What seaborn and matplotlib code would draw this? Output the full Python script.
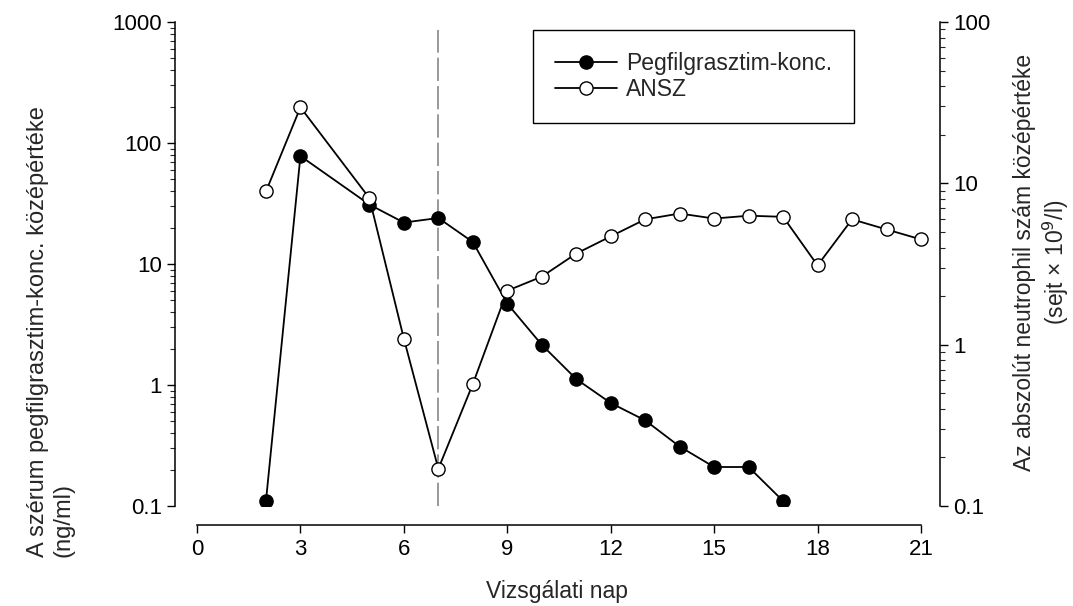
import numpy as np
import pandas as pd
import matplotlib
matplotlib.use("Agg")
import matplotlib.pyplot as plt
import matplotlib.ticker as mticker
import seaborn as sns

# data
days_peg = [2, 3, 5, 6, 7, 8, 9, 10, 11, 12, 13, 14, 15, 16, 17]
peg_conc = [0.11, 78, 31, 22, 24, 15.2, 4.7, 2.15, 1.12, 0.71, 0.51, 0.31, 0.21, 0.21, 0.11]

days_ansz = [2, 3, 5, 6, 7, 8, 9, 10, 11, 12, 13, 14, 15, 16, 17, 18, 19, 20, 21]
ansz = [8.9, 29.6, 8.1, 1.09, 0.17, 0.57, 2.16, 2.64, 3.67, 4.69, 5.98, 6.5,
        6.05, 6.3, 6.2, 3.1, 5.98, 5.18, 4.49]

x_ticks = [0, 3, 6, 9, 12, 15, 18, 21]
left_ticks = [0.1, 1, 10, 100, 1000]
right_ticks = [0.1, 1, 10, 100]
nadir_day = 7

sns.set_style("ticks")
plt.rcParams['font.family'] = ['Liberation Sans', 'DejaVu Sans']
plt.rcParams['font.size'] = 16

W, H = 1073, 606
fig = plt.figure(figsize=(W / 100, H / 100), dpi=100)
ax = fig.add_axes([175 / W, 1 - 506 / H, (940 - 175) / W, (506 - 22) / H])
ax2 = ax.twinx()

df_peg = pd.DataFrame({"nap": days_peg, "konc": peg_conc})
df_ansz = pd.DataFrame({"nap": days_ansz, "ansz": ansz})

sns.lineplot(data=df_peg, x="nap", y="konc", ax=ax, color="black", lw=1.3,
             marker="o", markersize=9.5, markerfacecolor="black",
             markeredgecolor="black", markeredgewidth=1, legend=False)
sns.lineplot(data=df_ansz, x="nap", y="ansz", ax=ax2, color="black", lw=1.3,
             marker="o", markersize=9.5, markerfacecolor="white",
             markeredgecolor="black", markeredgewidth=1, legend=False)

ax.axvline(nadir_day, ymin=0, ymax=0.983, color="#888888", lw=1.2,
           dashes=(14, 3), zorder=0)

px_per_day = (921 - 197) / 21
ax.set_xlim(0 - 22 / px_per_day, 21 + 19 / px_per_day)
ax.set_yscale("log")
ax.set_ylim(0.1, 1000)
ax2.set_yscale("log")
ax2.set_ylim(0.1, 100)

ax.set_xticks(x_ticks)
ax.set_yticks(left_ticks)
ax.yaxis.set_major_formatter(mticker.FuncFormatter(lambda v, p: f"{v:g}"))
ax.yaxis.set_minor_locator(mticker.LogLocator(base=10, subs=np.arange(2, 10)))
ax.yaxis.set_minor_formatter(mticker.NullFormatter())
ax2.set_yticks(right_ticks)
ax2.yaxis.set_major_formatter(mticker.FuncFormatter(lambda v, p: f"{v:g}"))
ax2.yaxis.set_minor_locator(mticker.LogLocator(base=10, subs=np.arange(2, 10)))
ax2.yaxis.set_minor_formatter(mticker.NullFormatter())

for a in (ax, ax2):
    a.spines["top"].set_visible(False)
    a.tick_params(which="major", length=6, width=1, labelsize=16, colors="black")
    a.tick_params(which="minor", length=3.5, width=0.8)
ax.spines["right"].set_visible(False)
ax2.spines["left"].set_visible(False)
ax2.spines["bottom"].set_visible(False)
ax.spines["bottom"].set_position(("outward", 14))
ax.spines["bottom"].set_bounds(0, 21)
for s in ("left", "bottom"):
    ax.spines[s].set_linewidth(1.1)
    ax.spines[s].set_color("black")
ax2.spines["right"].set_linewidth(1.1)
ax2.spines["right"].set_color("black")

ax.set_xlabel("Vizsgálati nap", fontsize=16.5, labelpad=15)
ax.set_ylabel("")
ax2.set_ylabel("")

fig.text(51 / W, 1 - 557 / H, "A szérum pegfilgrasztim-konc. középértéke\n(ng/ml)",
         rotation=90, ha="center", va="bottom", multialignment="left", fontsize=17)
fig.text(1042 / W, 1 - 262 / H, "Az abszolút neutrophil szám középértéke\n(sejt × 10$^{9}$/l)",
         rotation=90, ha="center", va="center", multialignment="center", fontsize=16.5)

handles = [ax.lines[0], ax2.lines[0]]
leg = ax.legend(handles, ["Pegfilgrasztim-konc.", "ANSZ"], loc="upper left",
                bbox_to_anchor=(0.468, 0.983), frameon=True, fancybox=False,
                edgecolor="black", framealpha=1, fontsize=16.5, handlelength=2.7,
                handletextpad=0.4, borderpad=0.95, labelspacing=0.15,
                borderaxespad=0)
leg.get_frame().set_linewidth(1.0)
leg.set_zorder(5)

fig.savefig("out.png", dpi=100)
